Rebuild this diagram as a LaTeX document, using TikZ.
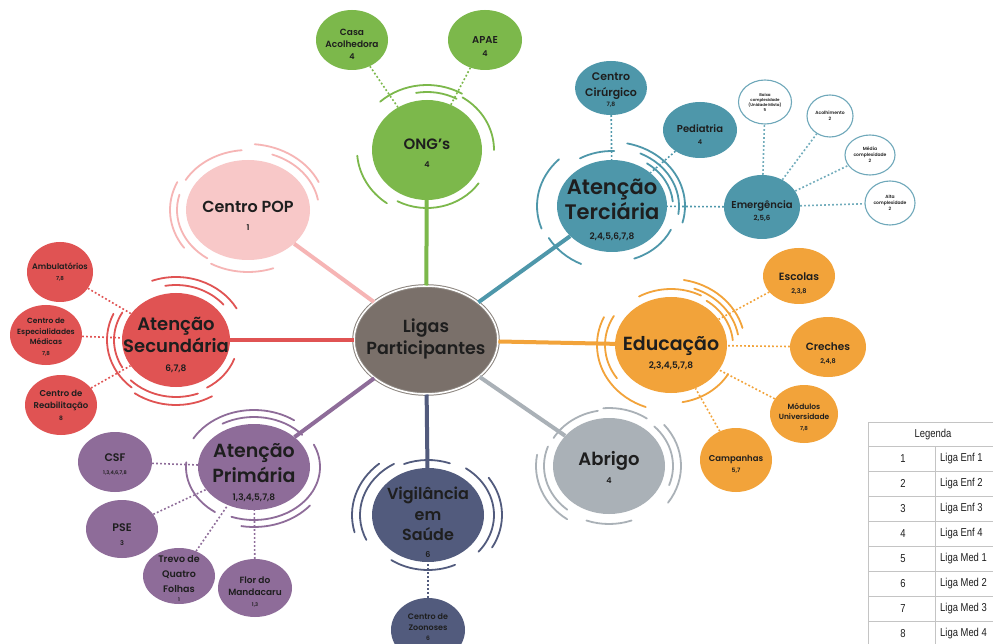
\documentclass[tikz,border=0pt]{standalone}
\usepackage{fontspec}
\setmainfont{Poppins}[BoldFont={Poppins SemiBold}]
\newfontfamily\legfont{Liberation Sans}[FakeStretch=0.82]
\usetikzlibrary{shapes.geometric}
\definecolor{txt}{HTML}{1E1E1E}
\definecolor{ongc}{HTML}{7CB84B}
\definecolor{terc}{HTML}{4E97AA}
\definecolor{educ}{HTML}{F2A33A}
\definecolor{abrc}{HTML}{AAB1B7}
\definecolor{vigc}{HTML}{525B7D}
\definecolor{pric}{HTML}{8E6C99}
\definecolor{secc}{HTML}{E05353}
\definecolor{popc}{HTML}{F8C8C8}
\definecolor{popl}{HTML}{F6B5B5}
\definecolor{cenc}{HTML}{7A706A}
\definecolor{cenb}{HTML}{8C857F}
\definecolor{wbord}{HTML}{6FA8BA}
\definecolor{legl}{HTML}{C4C4C4}
\tikzset{
  bub/.style={ellipse, inner sep=0pt, draw=none},
  lab/.style={align=center, text=txt, inner sep=0pt},
  mainline/.style={line width=4pt},
  dots/.style={line width=1.6pt, dash pattern=on 1.8pt off 2.2pt},
  ringline/.style={line width=1.8pt, line cap=round},
  wbub/.style={ellipse, inner sep=0pt, fill=white, draw=wbord, line width=1.1pt},
}
% #1 node, #2 rx, #3 ry, #4 colour, #5 list offset/start/end (visual degrees)
\newcommand\ringset[5]{%
  \foreach \d/\a/\b in {#5}{%
    \pgfmathsetmacro\rxx{#2+\d}\pgfmathsetmacro\ryy{#3+\d}%
    \pgfmathsetmacro\sa{-\a}\pgfmathsetmacro\ea{-\b}%
    \draw[#4, ringline] (#1.center) ++(\sa:\rxx\space and \ryy) arc[start angle=\sa, end angle=\ea, x radius=\rxx, y radius=\ryy];
  }}
\newcommand\fs[2]{\fontsize{#1}{#2}\selectfont}
\begin{document}
\begin{tikzpicture}[x=1pt,y=-1pt]
\useasboundingbox (0,0) rectangle (993,644);
\clip (0,0) rectangle (993,644);
\fill[white] (0,0) rectangle (993,644);

% ---------- main nodes ----------
\node[bub, fill=cenc, draw=cenb, line width=1pt, double=white, double distance=1.6pt,
      minimum width=144pt, minimum height=108pt] (lig) at (426,340) {};
\node[bub, fill=ongc, minimum width=110pt, minimum height=100pt] (ong) at (427,150) {};
\node[bub, fill=terc, minimum width=110pt, minimum height=92pt] (ter) at (612,206) {};
\node[bub, fill=educ, minimum width=112pt, minimum height=96pt] (edu) at (671,345) {};
\node[bub, fill=abrc, minimum width=112pt, minimum height=96pt] (abr) at (609,466) {};
\node[bub, fill=vigc, minimum width=112pt, minimum height=94pt] (vig) at (428,515) {};
\node[bub, fill=pric, minimum width=112pt, minimum height=86pt] (pri) at (254,467) {};
\node[bub, fill=secc, minimum width=108pt, minimum height=94pt] (sec) at (176,340) {};
\node[bub, fill=popc, minimum width=124pt, minimum height=100pt] (pop) at (248,210) {};

% ---------- child nodes ----------
\node[bub, fill=ongc, minimum width=72pt, minimum height=60pt] (cas) at (352,40) {};
\node[bub, fill=ongc, minimum width=74pt, minimum height=60pt] (apa) at (485,40) {};
\node[bub, fill=terc, minimum width=72pt, minimum height=54pt] (cir) at (611,88) {};
\node[bub, fill=terc, minimum width=74pt, minimum height=56pt] (ped) at (700,130) {};
\node[bub, fill=terc, minimum width=76pt, minimum height=64pt] (eme) at (762,207) {};
\node[wbub, minimum width=53pt, minimum height=44pt] (bai) at (765,102) {};
\node[wbub, minimum width=46pt, minimum height=42pt] (aco) at (830,116) {};
\node[wbub, minimum width=50pt, minimum height=40pt] (med) at (870,155) {};
\node[wbub, minimum width=50pt, minimum height=44pt] (alt) at (890,203) {};
\node[bub, fill=secc, minimum width=66pt, minimum height=60pt] (amb) at (60,272) {};
\node[bub, fill=secc, minimum width=72pt, minimum height=60pt] (esp) at (46,335) {};
\node[bub, fill=secc, minimum width=72pt, minimum height=60pt] (reh) at (61,405) {};
\node[bub, fill=educ, minimum width=72pt, minimum height=56pt] (esc) at (799,276) {};
\node[bub, fill=educ, minimum width=76pt, minimum height=60pt] (cre) at (828,347) {};
\node[bub, fill=educ, minimum width=68pt, minimum height=58pt] (mod) at (804,414) {};
\node[bub, fill=educ, minimum width=72pt, minimum height=64pt] (cam) at (736,460) {};
\node[bub, fill=pric, minimum width=74pt, minimum height=60pt] (csf) at (115,462) {};
\node[bub, fill=pric, minimum width=72pt, minimum height=58pt] (pse) at (122,529) {};
\node[bub, fill=pric, minimum width=72pt, minimum height=56pt] (tre) at (179,576) {};
\node[bub, fill=pric, minimum width=74pt, minimum height=58pt] (flo) at (255,588) {};
\node[bub, fill=vigc, minimum width=74pt, minimum height=64pt] (zoo) at (428,630) {};

% ---------- main connectors ----------
\draw[mainline, ongc] (lig) -- (ong);
\draw[mainline, terc] (lig) -- (ter);
\draw[mainline, educ] (lig) -- (edu);
\draw[mainline, abrc] (lig) -- (abr);
\draw[mainline, vigc] (lig) -- (vig);
\draw[mainline, pric] (lig) -- (pri);
\draw[mainline, secc] (lig) -- (sec);
\draw[mainline, popl] (lig) -- (pop);

% ---------- dotted connectors ----------
\draw[dots, ongc] (cas) -- (ong);
\draw[dots, ongc] (apa) -- (ong);
\draw[dots, terc] (cir) -- (ter);
\draw[dots, terc] (ped) -- (ter);
\draw[dots, terc] (eme) -- (ter);
\draw[dots, terc!80] (eme) -- (bai);
\draw[dots, terc!80] (eme) -- (aco);
\draw[dots, terc!80] (eme) -- (med);
\draw[dots, terc!80] (eme) -- (alt);
\draw[dots, secc] (amb) -- (sec);
\draw[dots, secc] (esp) -- (sec);
\draw[dots, secc] (reh) -- (sec);
\draw[dots, educ] (esc) -- (edu);
\draw[dots, educ] (cre) -- (edu);
\draw[dots, educ] (mod) -- (edu);
\draw[dots, educ] (cam) -- (edu);
\draw[dots, pric] (csf) -- (pri);
\draw[dots, pric] (pse) -- (pri);
\draw[dots, pric] (tre) -- (pri);
\draw[dots, pric] (flo) -- (pri);
\draw[dots, vigc] (zoo) -- (vig);

% ---------- ring arcs ----------
\ringset{ong}{55}{50}{ongc}{15/60/132, 8/62/100, 12/0/58, 15/185/235, 8/242/325}
\ringset{ter}{55}{46}{terc}{18/-15/78, 12/-8/65, 6/5/55, 9/88/120, 20/135/200, 18/210/245, 10/290/335}
\ringset{edu}{56}{48}{educ}{8/62/120, 18/15/80, 12/10/70, 6/5/55, 18/155/250, 10/150/215, 10/280/330}
\ringset{abr}{56}{48}{abrc}{8/100/150, 10/55/95, 8/-20/45, 16/-35/40, 9/160/230, 17/170/235, 10/250/290}
\ringset{vig}{56}{47}{vigc}{8/70/112, 10/-40/55, 18/-30/35, 12/120/205, 20/130/195, 8/235/295}
\ringset{pri}{56}{43}{pric}{14/55/150, 7/40/120, 10/-30/25, 12/175/235, 10/250/330, 17/260/320}
\ringset{sec}{54}{47}{secc}{16/30/110, 8/40/100, 8/150/210, 15/155/230, 10/225/290, 18/235/300, 8/300/340}
\ringset{pop}{62}{50}{popl}{10/95/150, 16/25/85, 9/10/70, 16/155/215, 9/165/235, 12/240/290}

% ---------- labels ----------
\node[lab, font=\bfseries\fs{17.5}{22}] (ligt) at (426,339) {Ligas\\Participantes};
\node[lab, font=\bfseries\fs{15}{18}] (ongt) at (427,153) {ONG’s\\{\fs{8}{10}4}};
\node[lab, font=\bfseries\fs{21}{25}] (tert) at (612,210) {Atenção\\Terciária\\[-5pt]{\fs{9}{11}2,4,5,6,7,8}};
\node[lab, font=\bfseries\fs{19}{22}] (edut) at (671,353) {Educação\\[-4pt]{\fs{9}{11}2,3,4,5,7,8}};
\node[lab, font=\bfseries\fs{18}{18}] (abrt) at (609,467) {Abrigo\\{\fs{8}{10}4}};
\node[lab, font=\bfseries\fs{16}{20.5}] (vigt) at (428,522) {Vigilância\\em\\Saúde\\[-4pt]{\fs{8}{10}6}};
\node[lab, font=\bfseries\fs{19}{25}] (prit) at (254,473) {Atenção\\Primária\\[-7pt]{\fs{9}{11}1,3,4,5,7,8}};
\node[lab, font=\bfseries\fs{18}{22}] (sect) at (176,345) {Atenção\\Secundária\\[-3pt]{\fs{9}{11}6,7,8}};
\node[lab, font=\bfseries\fs{16}{18}] (popt) at (248,216) {Centro POP\\{\fs{8}{10}1}};

\node[lab, font=\bfseries\fs{9}{12}] (cast) at (352,44) {Casa\\Acolhedora\\{\fs{8}{10}4}};
\node[lab, font=\bfseries\fs{10}{13}] (apat) at (485,47) {APAE\\{\fs{8}{10}4}};
\node[lab, font=\bfseries\fs{11}{16}] (cirt) at (611,90) {Centro\\Cirúrgico\\[-6pt]{\fs{6}{8}7,8}};
\node[lab, font=\bfseries\fs{10}{12}] (pedt) at (700,135) {Pediatria\\{\fs{6.5}{8}4}};
\node[lab, font=\bfseries\fs{10}{12}] (emet) at (762,211) {Emergência\\{\fs{7}{8}2,5,6}};
\node[lab, font=\bfseries\fs{4}{5}] (bait) at (bai) {Baixa\\complexidade\\(Unidade Mista)\\5};
\node[lab, font=\bfseries\fs{4.5}{6}] (acot) at (aco) {Acolhimento\\2};
\node[lab, font=\bfseries\fs{4.5}{6}] (medt) at (med) {Média\\complexidade\\2};
\node[lab, font=\bfseries\fs{4.5}{6}] (altt) at (alt) {Alta\\complexidade\\2};
\node[lab, font=\bfseries\fs{8}{11}] (ambt) at (amb) {Ambulatórios\\{\fs{5.5}{7}7,8}};
\node[lab, font=\bfseries\fs{7.5}{10.5}] (espt) at (46,337) {Centro de\\Especialidades\\Médicas\\{\fs{5.5}{7}7,8}};
\node[lab, font=\bfseries\fs{8.5}{12}] (reht) at (reh) {Centro de\\Reabilitação\\{\fs{6}{7}8}};
\node[lab, font=\bfseries\fs{10.5}{13}] (esct) at (799,284) {Escolas\\{\fs{6.5}{8}2,3,8}};
\node[lab, font=\bfseries\fs{10.5}{13}] (cret) at (828,354) {Creches\\{\fs{6.5}{8}2,4,8}};
\node[lab, font=\bfseries\fs{7.5}{10.5}] (modt) at (804,417) {Módulos\\Universidade\\{\fs{5.5}{7}7,8}};
\node[lab, font=\bfseries\fs{8.5}{11}] (camt) at (736,464) {Campanhas\\{\fs{6}{7}5,7}};
\node[lab, font=\bfseries\fs{11}{13}] (csft) at (115,464) {CSF\\{\fs{5}{7}1,3,4,6,7,8}};
\node[lab, font=\bfseries\fs{11}{14}] (pset) at (122,535) {PSE\\{\fs{6.5}{8}3}};
\node[lab, font=\bfseries\fs{9.5}{15}] (tret) at (179,578) {Trevo de\\Quatro\\Folhas\\[-6pt]{\fs{5}{7}1}};
\node[lab, font=\bfseries\fs{9}{12.5}] (flot) at (255,592) {Flor do\\Mandacaru\\[-2pt]{\fs{5}{7}1,3}};
\node[lab, font=\bfseries\fs{8}{11.5}] (zoot) at (428,627) {Centro de\\Zoonoses\\[-2pt]{\fs{6}{7}6}};

% ---------- legend ----------
\draw[legl, line width=0.7pt] (868,422) rectangle (1010,646);
\foreach \yy in {446,471,496,521,546,571,596,621}{\draw[legl, line width=0.7pt] (868,\yy) -- (1010,\yy);}
\draw[legl, line width=0.7pt] (935,446) -- (935,646);
\node[lab, font=\legfont\fs{11.5}{13}] (legh) at (933,435) {Legenda};
\foreach \i/\t in {1/Liga Enf 1,2/Liga Enf 2,3/Liga Enf 3,4/Liga Enf 4,5/Liga Med 1,6/Liga Med 2,7/Liga Med 3,8/Liga Med 4}{
  \node[lab, font=\legfont\fs{11.5}{13}] (legn\i) at (903,{433.5+25*\i}) {\i};
  \node[lab, font=\legfont\fs{11.5}{13}, anchor=west] (legt\i) at (940,{433.5+25*\i}) {\t};
}
\end{tikzpicture}
\end{document}
